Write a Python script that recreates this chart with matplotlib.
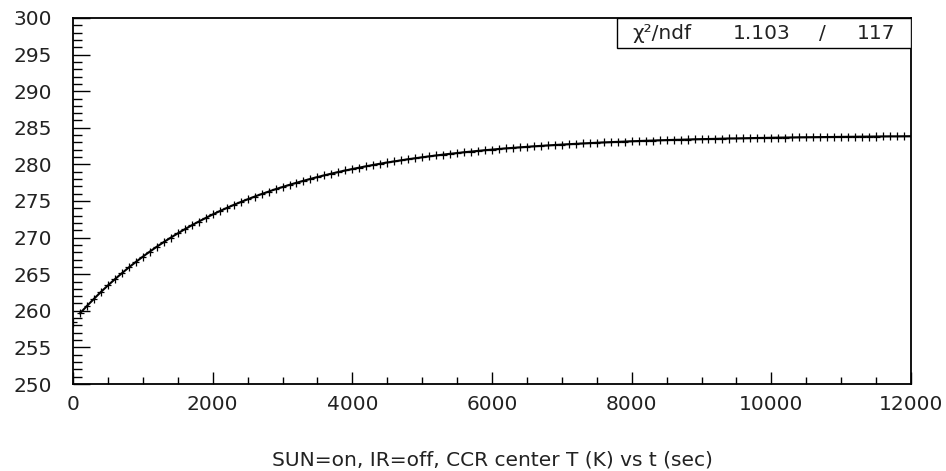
import numpy as np
import matplotlib.pyplot as plt
from matplotlib.ticker import MultipleLocator
from matplotlib.patches import Rectangle

t0 = [0]
temp0 = [258.45]
t = list(range(100, 12001, 100))
temp = [259.66, 260.67, 261.64, 262.58, 263.47, 264.32, 265.14, 265.93, 266.68, 267.40,
        268.09, 268.76, 269.39, 270.00, 270.58, 271.14, 271.68, 272.19, 272.68, 273.16,
        273.61, 274.04, 274.46, 274.85, 275.23, 275.60, 275.95, 276.28, 276.61, 276.91,
        277.21, 277.49, 277.76, 278.02, 278.27, 278.51, 278.74, 278.96, 279.17, 279.37,
        279.56, 279.75, 279.93, 280.10, 280.26, 280.41, 280.56, 280.71, 280.84, 280.97,
        281.10, 281.22, 281.34, 281.45, 281.55, 281.66, 281.75, 281.85, 281.94, 282.02,
        282.11, 282.19, 282.26, 282.33, 282.40, 282.47, 282.53, 282.59, 282.65, 282.71,
        282.76, 282.81, 282.86, 282.91, 282.96, 283.00, 283.04, 283.08, 283.12, 283.16,
        283.19, 283.23, 283.26, 283.29, 283.32, 283.35, 283.37, 283.40, 283.43, 283.45,
        283.47, 283.49, 283.52, 283.54, 283.55, 283.57, 283.59, 283.61, 283.62, 283.64,
        283.66, 283.67, 283.68, 283.70, 283.71, 283.72, 283.73, 283.74, 283.75, 283.76,
        283.77, 283.78, 283.79, 283.80, 283.81, 283.82, 283.83, 283.83, 283.84, 283.85]
chi2 = 1.103
ndf = 117
xlabel = "SUN=on, IR=off, CCR center T (K) vs t (sec)"

plt.rcParams['font.family'] = ['DejaVu Sans']

fig = plt.figure(figsize=(9.46, 4.71), dpi=100)
ax = fig.add_axes([0.0772, 0.1847, 0.8858, 0.7771])

# fit curve through the run
ax.plot(t, temp, color='black', lw=1.5, zorder=3)
ax.errorbar(t, temp, xerr=50, yerr=0.55, fmt='none', ecolor='black',
            elinewidth=0.9, capsize=0, zorder=2)
ax.errorbar(t0, temp0, xerr=50, yerr=0.6, fmt='none', ecolor='black',
            elinewidth=0.9, capsize=0, zorder=2)

ax.set_xlim(0, 12000)
ax.set_ylim(250, 300)
ax.xaxis.set_major_locator(MultipleLocator(2000))
ax.xaxis.set_minor_locator(MultipleLocator(500))
ax.yaxis.set_major_locator(MultipleLocator(5))
ax.yaxis.set_minor_locator(MultipleLocator(1))
ax.tick_params(axis='both', which='both', direction='in', color='black',
               labelsize=14.5, width=1.0, labelcolor='#222222')
ax.tick_params(axis='y', which='major', length=12, pad=15)
ax.tick_params(axis='y', which='minor', length=6.5)
ax.tick_params(axis='x', which='major', length=9, pad=8)
ax.tick_params(axis='x', which='minor', length=5)
ax.tick_params(top=False, right=False, which='both')
for s in ax.spines.values():
    s.set_linewidth(1.3)

ax.set_xlabel(xlabel, fontsize=14.5, labelpad=26, color='#222222')

# stats box in upper right
ax.add_patch(Rectangle((0.649, 0.918), 0.351, 0.082, transform=ax.transAxes,
                       facecolor='white', edgecolor='black', lw=1.0, zorder=5))
ax.text(0.667, 0.958, "χ²/ndf", transform=ax.transAxes, fontsize=14.5,
        va='center', ha='left', zorder=6, color='#222222')
ax.text(0.856, 0.958, f"{chi2:.3f}", transform=ax.transAxes, fontsize=14.5,
        va='center', ha='right', zorder=6, color='#222222')
ax.text(0.894, 0.958, "/", transform=ax.transAxes, fontsize=14.5,
        va='center', ha='center', zorder=6, color='#222222')
ax.text(0.981, 0.958, f"{ndf}", transform=ax.transAxes, fontsize=14.5,
        va='center', ha='right', zorder=6, color='#222222')

fig.savefig('out.png', dpi=100, facecolor='white')
